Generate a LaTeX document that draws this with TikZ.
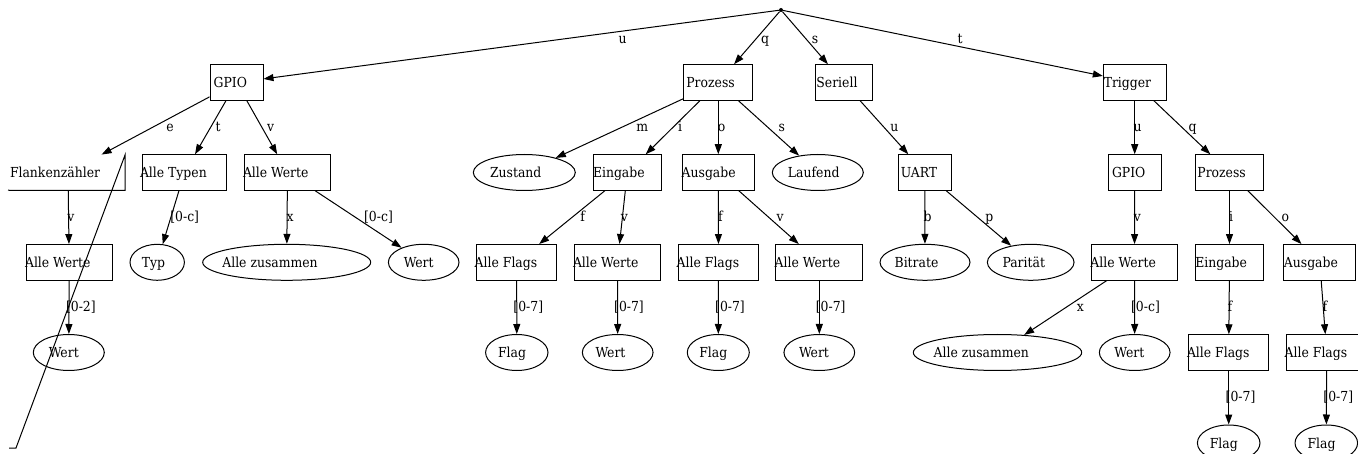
\documentclass[tikz,border=0pt]{standalone}
\usepackage{fontspec}
\setmainfont{DejaVu Serif Condensed}
\usetikzlibrary{shapes.geometric,arrows.meta}
\tikzset{
  every node/.style={font=\fontsize{13.8}{15}\selectfont},
  box/.style={draw, rectangle, line width=1pt, inner sep=0pt, minimum height=35.5pt, minimum width=#1},
  ghost/.style={rectangle, inner sep=0pt, minimum height=35.5pt, minimum width=#1},
  ell/.style={draw, ellipse, line width=1pt, inner sep=0pt, minimum height=36pt, minimum width=#1},
  every label/.style={inner sep=0pt, text height=10pt, text depth=0pt, font=\fontsize{13.8}{15}\selectfont},
  tx/.style={anchor=west, xshift=#1},
  cx/.style={anchor=center, xshift=#1},
  arr/.style={-{Triangle[length=10pt,width=7pt]}, line width=1pt},
  lbl/.style={inner sep=0pt, text height=10pt, text depth=0pt},
  dot/.style={circle, fill, inner sep=0pt, minimum size=4pt}
}
\begin{document}
\begin{tikzpicture}[x=1pt,y=-1pt]
\useasboundingbox (0,0) rectangle (1358,454);
\fill[white] (0,0) rectangle (1358,454);
\clip (0,0) rectangle (1358,454);

% root
\node[dot] (root) at (781,10) {};

% row 1
\node[box=53pt, label={[tx=4pt]west:GPIO}] (gpio) at (236.5,82.5) {};
\node[box=68.7pt, label={[tx=2.7pt]west:Prozess}] (proz) at (718.3,82.5) {};
\node[box=56.7pt, label={[tx=1.4pt]west:Seriell}] (ser) at (843.7,82.5) {};
\node[box=62.7pt, label={[tx=0.7pt]west:Trigger}] (trig) at (1134.7,82.5) {};

% row 2
\node[ghost=114pt, label={[tx=-1pt]west:Flankenzähler}] (flank) at (68,172.5) {};
\node[box=84.4pt, label={[tx=-2pt]west:Alle Typen}] (atyp) at (184.5,172.5) {};
\node[box=86.4pt, label={[tx=-1pt]west:Alle Werte}] (awg) at (287.5,172.5) {};
\node[ell=102pt, label={[cx=-8.6pt]center:Zustand}] (zust) at (524.3,172.5) {};
\node[box=68pt, label={[tx=0pt]west:Eingabe}] (eing) at (627.3,172.5) {};
\node[box=72pt, label={[tx=-0.3pt]west:Ausgabe}] (ausg) at (718.3,172.5) {};
\node[ell=91pt, label={[cx=-4.1pt]center:Laufend}] (lauf) at (817.8,172.5) {};
\node[box=52.7pt, label={[tx=2.7pt]west:UART}] (uart) at (924.7,172.5) {};
\node[box=52.7pt, label={[tx=4pt]west:GPIO}] (tgpio) at (1134.7,172.5) {};
\node[box=68.4pt, label={[tx=2.4pt]west:Prozess}] (tproz) at (1229.5,172.5) {};

% row 3
\node[box=86.3pt, label={[tx=-0.7pt]west:Alle Werte}] (aw1) at (69.2,262.3) {};
\node[ell=54.4pt, label={[cx=-3.7pt]center:Typ}] (typ) at (157.2,262.3) {};
\node[ell=168pt, label={[cx=-16.7pt]center:Alle zusammen}] (az1) at (286.7,262.3) {};
\node[ell=70.6pt, label={[cx=-5pt]center:Wert}] (wert1) at (423.7,262.3) {};
\node[box=80pt, label={[tx=-1.7pt]west:Alle Flags}] (af1) at (516.7,262.3) {};
\node[box=86.4pt, label={[tx=-1pt]west:Alle Werte}] (aw2) at (617.5,262.3) {};
\node[box=80.4pt, label={[tx=-1.3pt]west:Alle Flags}] (af2) at (718.5,262.3) {};
\node[box=86.7pt, label={[tx=-1pt]west:Alle Werte}] (aw3) at (819.3,262.3) {};
\node[ell=90pt, label={[cx=-8.5pt]center:Bitrate}] (bit) at (925,262.3) {};
\node[ell=86.7pt, label={[cx=-6.9pt]center:Parität}] (par) at (1030.7,262.3) {};
\node[box=86.4pt, label={[tx=-0.6pt]west:Alle Werte}] (aw4) at (1134.5,262.3) {};
\node[box=68.4pt, label={[tx=0.3pt]west:Eingabe}] (teing) at (1229.5,262.3) {};
\node[box=72.3pt, label={[tx=0.6pt]west:Ausgabe}] (tausg) at (1319.8,262.3) {};

% row 4
\node[ell=71pt, label={[cx=-5pt]center:Wert}] (wert0) at (68.8,352.5) {};
\node[ell=62.4pt, label={[cx=-4.8pt]center:Flag}] (flag1) at (516.8,352.5) {};
\node[ell=70.7pt, label={[cx=-7.2pt]center:Wert}] (wert2) at (617.7,352.5) {};
\node[ell=62pt, label={[cx=-5pt]center:Flag}] (flag2) at (718.3,352.5) {};
\node[ell=70.7pt, label={[cx=-5.3pt]center:Wert}] (wert3) at (819.3,352.5) {};
\node[ell=168.4pt, label={[cx=-16.2pt]center:Alle zusammen}] (az2) at (997.5,352.5) {};
\node[ell=70.7pt, label={[cx=-5.4pt]center:Wert}] (wert4) at (1134.7,352.5) {};
\node[box=80pt, label={[tx=-1.4pt]west:Alle Flags}] (taf1) at (1228.7,352.5) {};
\node[box=80pt, label={[tx=-1.7pt]west:Alle Flags}] (taf2) at (1326.7,352.5) {};

% row 5
\node[ell=62.6pt, label={[cx=-4.9pt]center:Flag}] (tflag1) at (1228.7,443) {};
\node[ell=62.6pt, label={[cx=-4.8pt]center:Flag}] (tflag2) at (1326.3,443) {};

% broken outline of Flankenzähler
\draw[line width=1pt] (8,190.25) -- (flank.south east) -- (flank.north east) -- (16,448) -- (9,448);

% edges
\draw[arr] (root) -- (gpio);
\draw[arr] (root) -- (proz);
\draw[arr] (root) -- (ser);
\draw[arr] (root) -- (trig);

\draw[arr] (gpio) -- (flank);
\draw[arr] (gpio) -- (atyp);
\draw[arr] (gpio) -- (awg);
\draw[arr] (proz) -- (zust);
\draw[arr] (proz) -- (eing);
\draw[arr] (proz) -- (ausg);
\draw[arr] (proz) -- (lauf);
\draw[arr] (ser) -- (uart);
\draw[arr] (trig) -- (tgpio);
\draw[arr] (trig) -- (tproz);

\draw[arr] (flank) -- (aw1);
\draw[arr] (atyp) -- (typ);
\draw[arr] (awg) -- (az1);
\draw[arr] (awg) -- (wert1);
\draw[arr] (eing) -- (af1);
\draw[arr] (eing) -- (aw2);
\draw[arr] (ausg) -- (af2);
\draw[arr] (ausg) -- (aw3);
\draw[arr] (uart) -- (bit);
\draw[arr] (uart) -- (par);
\draw[arr] (tgpio) -- (aw4);
\draw[arr] (tproz) -- (teing);
\draw[arr] (tproz) -- (tausg);

\draw[arr] (aw1) -- (wert0);
\draw[arr] (af1) -- (flag1);
\draw[arr] (aw2) -- (wert2);
\draw[arr] (af2) -- (flag2);
\draw[arr] (aw3) -- (wert3);
\draw[arr] (aw4) -- (az2);
\draw[arr] (aw4) -- (wert4);
\draw[arr] (teing) -- (taf1);
\draw[arr] (tausg) -- (taf2);

\draw[arr] (taf1) -- (tflag1);
\draw[arr] (taf2) -- (tflag2);

% edge labels
\node[lbl] (l01) at (622.7,38.5) {u};
\node[lbl] (l02) at (765,38.5) {q};
\node[lbl] (l03) at (815,38.5) {s};
\node[lbl] (l04) at (960,38.5) {t};

\node[lbl] (l11) at (170,126.5) {e};
\node[lbl] (l12) at (218,126.5) {t};
\node[lbl] (l13) at (270.7,126.5) {v};
\node[lbl] (l14) at (642.3,126.5) {m};
\node[lbl] (l15) at (680,126.5) {i};
\node[lbl] (l16) at (721.7,126.5) {o};
\node[lbl] (l17) at (781.7,126.5) {s};
\node[lbl] (l18) at (894.3,126.5) {u};
\node[lbl] (l19) at (1137.7,126.5) {u};
\node[lbl] (l1a) at (1192.7,126.5) {q};

\node[lbl] (l21) at (71,216.5) {v};
\node[lbl] (l22) at (184.7,216.5) {[0-c]};
\node[lbl] (l23) at (290,216.5) {x};
\node[lbl] (l24) at (378.5,216.5) {[0-c]};
\node[lbl] (l25) at (582.7,216.5) {f};
\node[lbl] (l26) at (624.3,216.5) {v};
\node[lbl] (l27) at (720.3,216.5) {f};
\node[lbl] (l28) at (780,216.5) {v};
\node[lbl] (l29) at (927.7,216.5) {b};
\node[lbl] (l2a) at (989.3,216.5) {p};
\node[lbl] (l2b) at (1137.3,216.5) {v};
\node[lbl] (l2c) at (1231,216.5) {i};
\node[lbl] (l2d) at (1285.3,216.5) {o};

\node[lbl] (l31) at (80.9,306.5) {[0-2]};
\node[lbl] (l32) at (528.3,306.5) {[0-7]};
\node[lbl] (l33) at (629,306.5) {[0-7]};
\node[lbl] (l34) at (730,306.5) {[0-7]};
\node[lbl] (l35) at (830.7,306.5) {[0-7]};
\node[lbl] (l36) at (1080.3,306.5) {x};
\node[lbl] (l37) at (1145.5,306.5) {[0-c]};
\node[lbl] (l38) at (1230,306.5) {f};
\node[lbl] (l39) at (1325,306.5) {f};

\node[lbl] (l41) at (1240.5,396.5) {[0-7]};
\node[lbl] (l42) at (1338.3,396.5) {[0-7]};
\end{tikzpicture}
\end{document}
